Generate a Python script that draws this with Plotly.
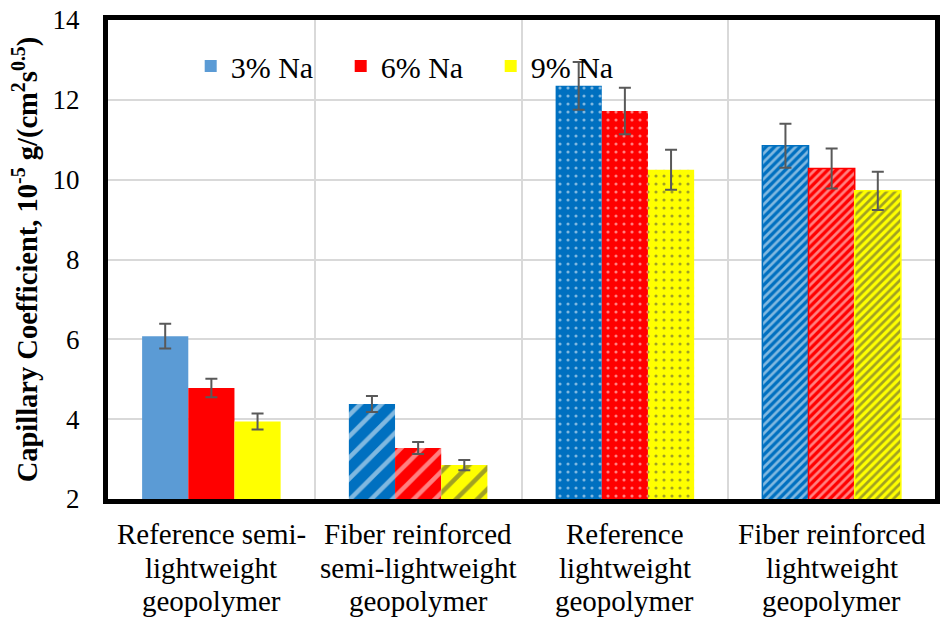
import plotly.graph_objects as go

categories = [
    "Reference semi-<br>lightweight<br>geopolymer",
    "Fiber reinforced<br>semi-lightweight<br>geopolymer",
    "Reference<br>lightweight<br>geopolymer",
    "Fiber reinforced<br>lightweight<br>geopolymer",
]
series_names = ["3% Na", "6% Na", "9% Na"]
na3 = [6.08, 4.38, 12.35, 10.85]
na6 = [4.78, 3.28, 11.72, 10.28]
na9 = [3.94, 2.85, 10.25, 9.72]
err3 = [0.31, 0.2, 0.6, 0.55]
err6 = [0.23, 0.15, 0.58, 0.5]
err9 = [0.2, 0.13, 0.5, 0.48]

values = [na3, na6, na9]
errors = [err3, err6, err9]

bar_colors = [
    ["#5B9BD5", "#0070C0", "#0070C0", "#0070C0"],
    ["#FF0000", "#FF0000", "#FF0000", "#FF0000"],
    ["#FFFF00", "#FFFF00", "#FFFF00", "#FFFF00"],
]
pattern_fg = [
    ["white", "white", "white", "white"],
    ["white", "white", "white", "white"],
    ["white", "white", "black", "black"],
]
shapes_ = ["", "/", ".", "/"]
sizes_ = [10, 15, 8, 6]
solid_ = [0.3, 0.3, 0.12, 0.45]

font_fam = "Liberation Serif"

fig = go.Figure()
for i in range(3):
    fig.add_trace(go.Bar(
        x=categories, y=values[i], name=series_names[i],
        base=0,
        marker=dict(
            color=bar_colors[i],
            line=dict(color=bar_colors[i], width=[0, 0, 0, 1.5]),
            pattern=dict(shape=shapes_, fgcolor=pattern_fg[i], size=sizes_,
                         solidity=solid_, fillmode="overlay"),
        ),
        error_y=dict(type="data", array=errors[i], color="#595959",
                     thickness=2, width=6),
    ))

# category labels as individual lines (tighter line spacing than Plotly's default)
line_shifts = [-35, -69, -102]
for cat in categories:
    for j, line in enumerate(cat.split("<br>")):
        fig.add_annotation(x=cat, xref="x", y=0, yref="paper", text=line,
                           showarrow=False, yanchor="middle", xanchor="center",
                           yshift=line_shifts[j],
                           font=dict(family=font_fam, size=29, color="black"))

fig.update_layout(
    width=942, height=622,
    margin=dict(l=108, r=2, t=20, b=123),
    barmode="group", bargap=0.33, bargroupgap=0,
    plot_bgcolor="white", paper_bgcolor="white",
    font=dict(family=font_fam, size=27, color="black"),
    legend=dict(orientation="h", x=0.1, y=0.958, xanchor="left", yanchor="top",
                bgcolor="rgba(0,0,0,0)", font=dict(family=font_fam, size=30),
                entrywidth=105, entrywidthmode="pixels"),
    showlegend=True,
)
fig.update_xaxes(
    showline=True, linecolor="black", linewidth=5, mirror=True,
    showgrid=True, gridcolor="#D9D9D9", gridwidth=1.5,
    tickson="boundaries", ticks="", showticklabels=False,
)
fig.update_yaxes(
    range=[2, 14], dtick=2, tick0=2,
    showline=True, linecolor="black", linewidth=5, mirror=True,
    showgrid=True, gridcolor="#D9D9D9", gridwidth=1.5,
    ticks="", ticklabelstandoff=18, tickfont=dict(family=font_fam, size=27),
    title=dict(text="<b>Capillary Coefficient, 10<sup>-5</sup> g/(cm<sup>2</sup>s<sup>0.5</sup>)</b>",
               font=dict(family=font_fam, size=28.5), standoff=8),
)

fig.write_html("out.html", post_script="document.body.style.margin='0';",
               config={"displayModeBar": False})
